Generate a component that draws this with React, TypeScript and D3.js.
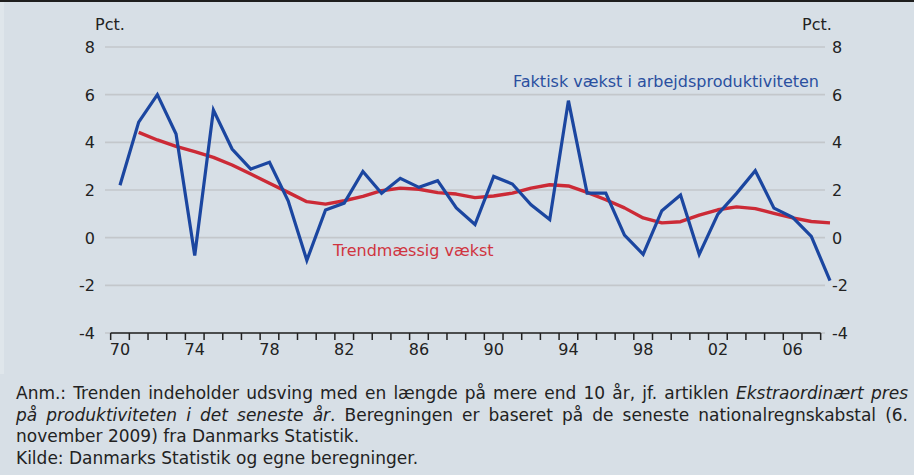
import React, { useEffect, useRef } from "react";
import * as d3 from "d3";

// år 1970-2008
const years: number[] = d3.range(1970, 2009);

// Faktisk vækst i arbejdsproduktiviteten, pct.
const actual: number[] = [
  2.2, 4.85, 6.0, 4.35, -0.75, 5.35, 3.72, 2.88, 3.16, 1.55,
  -0.95, 1.16, 1.45, 2.78, 1.86, 2.49, 2.11, 2.39, 1.25, 0.55,
  2.57, 2.25, 1.38, 0.76, 5.75, 1.87, 1.87, 0.11, -0.7, 1.13,
  1.79, -0.7, 0.99, 1.86, 2.81, 1.24, 0.85, 0.05, -1.8,
];

// Trendmæssig vækst, pct. (fra 1971)
const trendYears: number[] = d3.range(1971, 2009);
const trend: number[] = [
  4.42, 4.1, 3.83, 3.61, 3.37, 3.05, 2.67, 2.28, 1.9, 1.51,
  1.41, 1.55, 1.73, 1.97, 2.08, 2.03, 1.89, 1.83, 1.68, 1.75,
  1.87, 2.08, 2.22, 2.17, 1.9, 1.59, 1.25, 0.83, 0.62, 0.67,
  0.95, 1.17, 1.29, 1.22, 1.02, 0.83, 0.68, 0.62,
];

const yTicks: number[] = [-4, -2, 0, 2, 4, 6, 8];
const xLabelYears: number[] = [1970, 1974, 1978, 1982, 1986, 1990, 1994, 1998, 2002, 2006];

const W = 914;
const H = 475;
const BG = "#d7dfe6";
const BLUE = "#1b46a0";
const RED = "#cc2a36";
const FONT = "'DejaVu Sans', Verdana, sans-serif";

export default function App() {
  const ref = useRef<SVGSVGElement | null>(null);

  useEffect(() => {
    const svg = d3.select(ref.current);
    svg.selectAll("*").remove();

    const x = d3.scaleLinear().domain([1970, 2008]).range([120, 830]);
    const y = d3.scaleLinear().domain([-4, 8]).range([333, 47]);

    svg.append("rect").attr("width", W).attr("height", H).attr("fill", BG);
    svg.append("rect").attr("x", 0).attr("y", 2).attr("width", 4).attr("height", 372).attr("fill", "#dfe6eb");
    svg.append("rect").attr("width", W).attr("height", 2).attr("fill", "#1e1e1e");

    // gitterlinjer
    svg.append("g")
      .selectAll("line")
      .data(yTicks)
      .join("line")
      .attr("x1", 105)
      .attr("x2", 825)
      .attr("y1", d => y(d))
      .attr("y2", d => y(d))
      .attr("stroke", "#c3c7cb")
      .attr("stroke-width", 1.6);

    // y-akser, venstre og højre
    const tickText = (sel: any) =>
      sel.attr("font-family", FONT).attr("font-size", 16).attr("fill", "#222");

    svg.append("g")
      .selectAll("text")
      .data(yTicks)
      .join("text")
      .attr("x", 95)
      .attr("y", d => y(d) + 6)
      .attr("text-anchor", "end")
      .text(d => String(d))
      .call(tickText);

    svg.append("g")
      .selectAll("text")
      .data(yTicks)
      .join("text")
      .attr("x", 832)
      .attr("y", d => y(d) + 6)
      .attr("text-anchor", "start")
      .text(d => String(d))
      .call(tickText);

    svg.append("text").attr("x", 95).attr("y", 30).text("Pct.").call(tickText);
    svg.append("text").attr("x", 802).attr("y", 30).text("Pct.").call(tickText);

    // x-akse
    const xa = svg.append("g");
    xa.append("line")
      .attr("x1", x(1969.5))
      .attr("x2", x(2007.5))
      .attr("y1", y(-4))
      .attr("y2", y(-4))
      .attr("stroke", "#222")
      .attr("stroke-width", 1.5);
    xa.selectAll("line.tick")
      .data(years)
      .join("line")
      .attr("class", "tick")
      .attr("x1", d => x(d - 0.5))
      .attr("x2", d => x(d - 0.5))
      .attr("y1", y(-4))
      .attr("y2", y(-4) + 7)
      .attr("stroke", "#222")
      .attr("stroke-width", 1.5);
    xa.selectAll("text")
      .data(xLabelYears)
      .join("text")
      .attr("x", d => x(d))
      .attr("y", 355)
      .attr("text-anchor", "middle")
      .text(d => d3.format("02")(d % 100))
      .call(tickText);

    // serier
    const lineA = d3.line<number>().x((_, i) => x(years[i])).y(d => y(d));
    const lineT = d3.line<number>().x((_, i) => x(trendYears[i])).y(d => y(d));

    svg.append("path")
      .datum(trend)
      .attr("d", lineT)
      .attr("fill", "none")
      .attr("stroke", RED)
      .attr("stroke-width", 3.4)
      .attr("stroke-linejoin", "round");

    svg.append("path")
      .datum(actual)
      .attr("d", lineA)
      .attr("fill", "none")
      .attr("stroke", BLUE)
      .attr("stroke-width", 3.2);

    svg.append("text")
      .attr("x", 333)
      .attr("y", 256)
      .attr("font-family", FONT)
      .attr("font-size", 16)
      .attr("fill", "#d0343f")
      .text("Trendmæssig vækst");

    svg.append("text")
      .attr("x", 819)
      .attr("y", 87)
      .attr("text-anchor", "end")
      .attr("font-family", FONT)
      .attr("font-size", 16)
      .attr("fill", "#2a4f9f")
      .text("Faktisk vækst i arbejdsproduktiviteten");

    // note
    const note = svg.append("g").attr("font-family", FONT).attr("font-size", 17).attr("fill", "#222");
    const lines: { parts: [string, boolean][]; justify: boolean }[] = [
      {
        parts: [
          ["Anm.: Trenden indeholder udsving med en længde på mere end 10 år, jf. artiklen ", false],
          ["Ekstraordinært pres", true],
        ],
        justify: true,
      },
      {
        parts: [
          ["på produktiviteten i det seneste år", true],
          [". Beregningen er baseret på de seneste nationalregnskabstal (6.", false],
        ],
        justify: true,
      },
      { parts: [["november 2009) fra Danmarks Statistik.", false]], justify: false },
      { parts: [["Kilde: Danmarks Statistik og egne beregninger.", false]], justify: false },
    ];
    lines.forEach((ln, i) => {
      const t = note.append("text").attr("x", 16).attr("y", 399 + i * 21.7).attr("xml:space", "preserve");
      ln.parts.forEach(([s, it]) => {
        t.append("tspan").attr("font-style", it ? "italic" : "normal").text(s);
      });
      if (ln.justify) {
        const node = t.node() as SVGTextElement;
        const len = node.getComputedTextLength();
        const full = ln.parts.map(p => p[0]).join("");
        const spaces = (full.match(/ /g) || []).length;
        const target = 908 - 16;
        if (spaces > 0) t.attr("word-spacing", (target - len) / spaces);
      }
    });
  }, []);

  return (
    <svg
      ref={ref}
      width={W}
      height={H}
      style={{ position: "absolute", left: 0, top: 0, display: "block" }}
    />
  );
}
